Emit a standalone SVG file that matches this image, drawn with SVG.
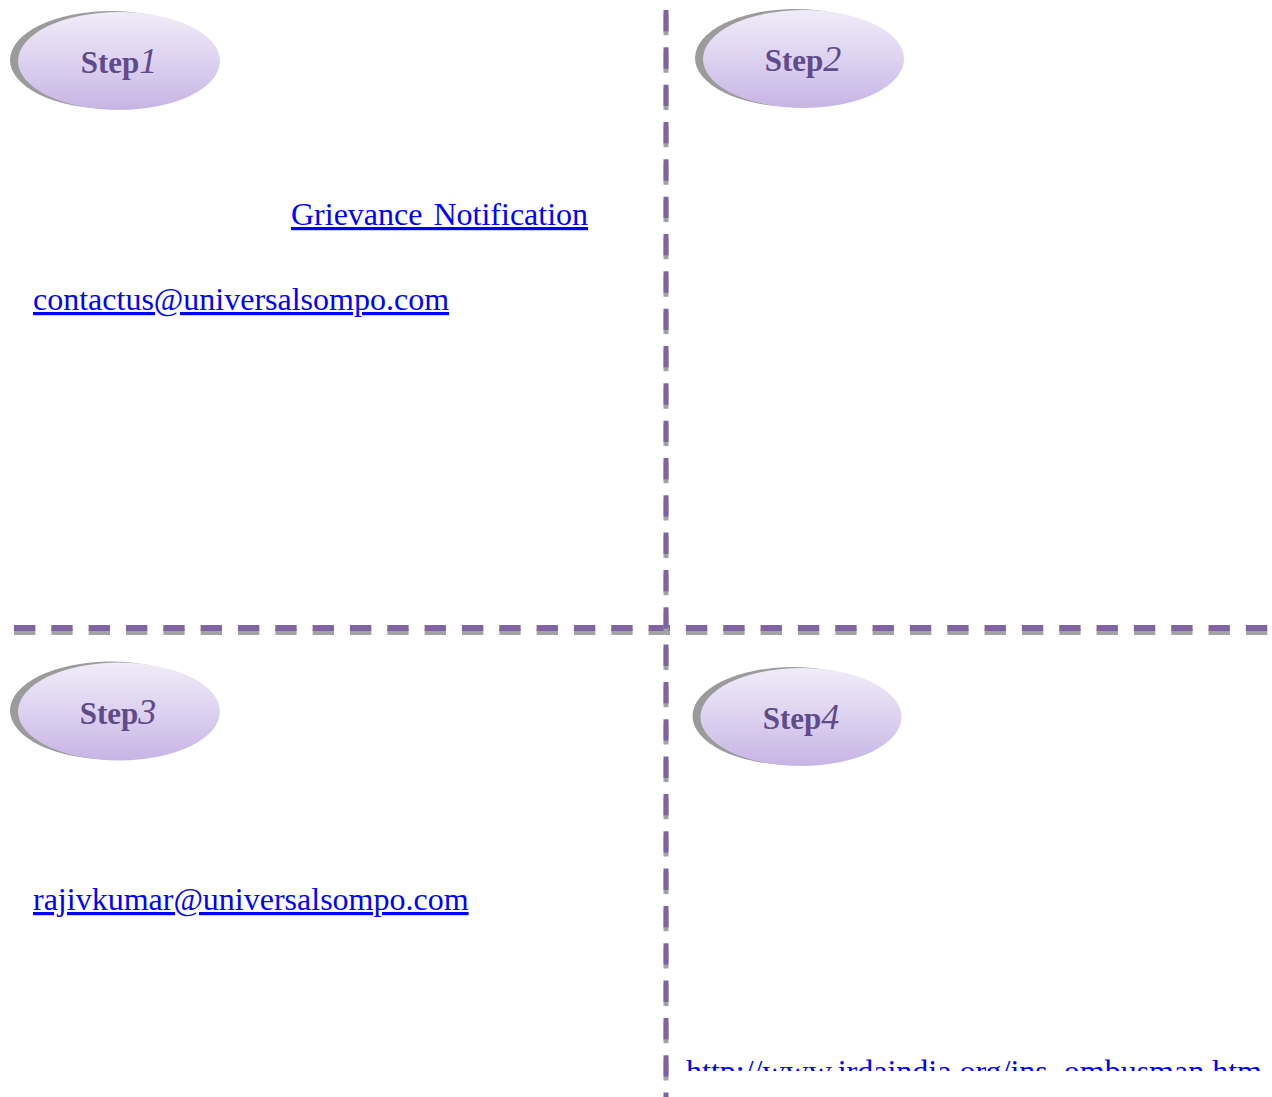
<svg xmlns="http://www.w3.org/2000/svg" width="1272" height="1097" viewBox="0 0 1272 1097">
<defs>
<linearGradient id="fill" x1="0" y1="0" x2="0" y2="1">
<stop offset="0" stop-color="#f0ecf8"/>
<stop offset="0.5" stop-color="#ddd2f0"/>
<stop offset="1" stop-color="#c7b4e5"/>
</linearGradient>
<clipPath id="pageclip"><rect x="0" y="0" width="1272" height="1071"/></clipPath>
</defs>
<style>
.shadow{fill:#9b9b9b}
.oval{fill:url(#fill)}
.lbl{font-family:"Liberation Serif","DejaVu Serif",serif;font-weight:bold;font-size:31px;fill:#5f4b8b}
.num{font-family:"Liberation Serif","DejaVu Serif",serif;font-style:italic;font-weight:normal;font-size:36px}
.link{font-family:"Liberation Serif","Times New Roman",serif;font-size:32px;fill:#0000ff;text-decoration:underline}
.dash{fill:none;stroke-dasharray:21.33 16}
.dh{stroke:#8064a2;stroke-width:6}
.dhs{stroke:#a3a3a3;stroke-width:6}
.dv{stroke:#8064a2;stroke-width:5}
.dvs{stroke:#a3a3a3;stroke-width:5}
</style>
<rect width="1272" height="1097" fill="#ffffff"/>
<g id="connectors">
<line class="dash dhs" x1="14" y1="632" x2="1272" y2="632"/>
<line class="dash dh" x1="14" y1="628" x2="1272" y2="628"/>
<line class="dash dvs" x1="666" y1="14" x2="666" y2="1101"/>
<line class="dash dv" x1="666" y1="10" x2="666" y2="1097"/>
</g>
<g id="step1">
<ellipse class="shadow" cx="111" cy="60" rx="101" ry="49"/>
<ellipse class="oval" cx="119" cy="61" rx="101" ry="49"/>
<text class="lbl" x="119" y="73" text-anchor="middle">Step<tspan class="num">1</tspan></text>
</g>
<g id="step2">
<ellipse class="shadow" cx="795.5" cy="58" rx="100.5" ry="49"/>
<ellipse class="oval" cx="803.5" cy="59" rx="100.5" ry="49"/>
<text class="lbl" x="803" y="71" text-anchor="middle">Step<tspan class="num">2</tspan></text>
</g>
<g id="step3">
<ellipse class="shadow" cx="111" cy="710.5" rx="101" ry="49"/>
<ellipse class="oval" cx="119" cy="711.5" rx="101" ry="49"/>
<text class="lbl" x="118" y="724" text-anchor="middle">Step<tspan class="num">3</tspan></text>
</g>
<g id="step4">
<ellipse class="shadow" cx="793" cy="716" rx="100.5" ry="49"/>
<ellipse class="oval" cx="801" cy="717" rx="100.5" ry="49"/>
<text class="lbl" x="801" y="729" text-anchor="middle">Step<tspan class="num">4</tspan></text>
</g>
<g id="links">
<text class="link" x="291" y="225" word-spacing="3">Grievance Notification</text>
<text class="link" x="33" y="310">contactus@universalsompo.com</text>
<text class="link" x="33" y="910">rajivkumar@universalsompo.com</text>
<g clip-path="url(#pageclip)">
<text class="link" x="686" y="1082">http://www.irdaindia.org/ins_ombusman.htm</text>
</g>
</g>
</svg>
